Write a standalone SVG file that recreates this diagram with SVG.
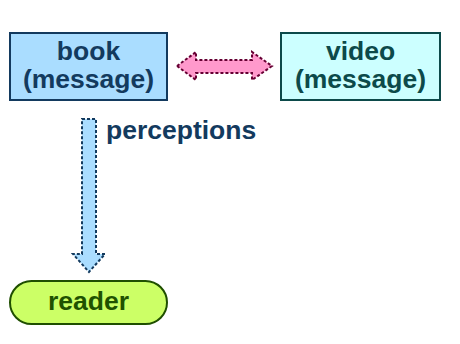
<svg xmlns="http://www.w3.org/2000/svg" width="460" height="344" viewBox="0 0 460 344">
<style>
text{font-family:"Liberation Sans",Arial,sans-serif;font-weight:bold;font-size:26.5px;text-anchor:middle}
.book rect{fill:#aaddff;stroke:#133a5e;stroke-width:2}
.book text{fill:#133a5e}
.video rect{fill:#ccffff;stroke:#0c4a4a;stroke-width:2}
.video text{fill:#0c4a4a}
.reader rect{fill:#ccff66;stroke:#1f4f00;stroke-width:2}
.reader text{fill:#1f5200}
.dbl{fill:#ff99cc;stroke:#660033;stroke-width:2;stroke-dasharray:3 2}
.down{fill:#aaddff;stroke:#133a5e;stroke-width:2;stroke-dasharray:3 2}
.lbl{fill:#133a5e;text-anchor:start}
</style>
<rect width="460" height="344" fill="#ffffff"/>
<g id="book" class="book">
<rect x="10" y="33" width="157" height="67"/>
<text x="88.5" y="60">book</text>
<text x="88.5" y="87.5">(message)</text>
</g>
<g id="video" class="video">
<rect x="281" y="33" width="159" height="67"/>
<text x="360.5" y="60">video</text>
<text x="360.5" y="87.5">(message)</text>
</g>
<g id="reader" class="reader">
<rect x="10" y="281" width="157" height="43" rx="21.5"/>
<text x="88.5" y="310">reader</text>
</g>
<g id="connectors">
<path class="dbl" d="M177,66 L196,52 L196,60 L252,60 L252,52 L272,66 L252,80 L252,73 L196,73 L196,80 Z"/>
<path class="down" d="M82,119 L96,119 L96,254 L105,254 L89,272 L73,254 L82,254 Z"/>
<text class="lbl" x="106" y="139">perceptions</text>
</g>
</svg>
